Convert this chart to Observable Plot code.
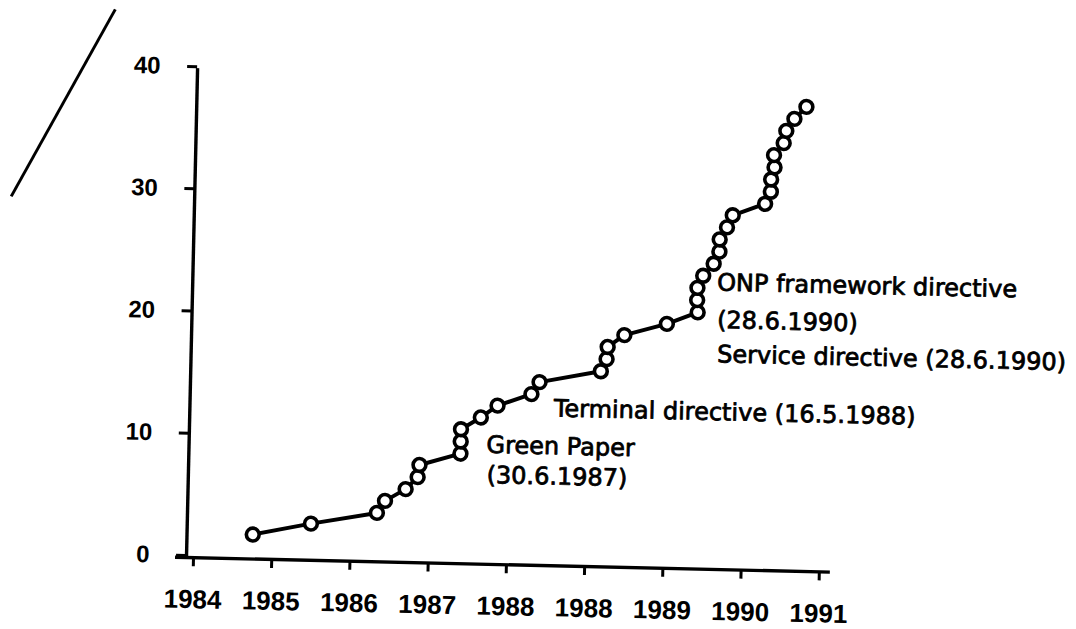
<!DOCTYPE html>
<html>
<head>
<meta charset="utf-8">
<script src="https://cdn.jsdelivr.net/npm/d3@7"></script>
<script src="https://cdn.jsdelivr.net/npm/@observablehq/plot@0.6"></script>
<style>
  html, body { margin: 0; padding: 0; background: #fff; }
  #wrap { position: relative; width: 1076px; height: 629px; overflow: hidden; background: #fff; }
  #chart svg { display: block; transform: rotate(1.3deg); transform-origin: 186px 557px; }
  #scanmark { position: absolute; left: 11px; top: 195px; width: 214px; height: 2.5px; background: #000;
              transform-origin: 0 50%; transform: rotate(-60.9deg); }
</style>
</head>
<body>
<div id="wrap">
  <div id="chart"></div>
  <div id="scanmark"></div>
</div>
<script>
// Tick labels along the horizontal axis (as printed, including the repeated 1988)
const tickPositions = [0, 1, 2, 3, 4, 5, 6, 7, 8];
const tickLabels = ["1984", "1985", "1986", "1987", "1988", "1988", "1989", "1990", "1991"];
const yTicks = [0, 10, 20, 30, 40];

// Position of each point along the time axis (in tick units, 0 = 1984 tick)
const pointX = [0.84, 1.58, 2.42, 2.52, 2.78, 2.93, 2.95, 3.47, 3.47, 3.47,
                3.72, 3.93, 4.36, 4.46, 5.24, 5.31, 5.32, 5.53, 6.07, 6.46,
                6.45, 6.45, 6.52, 6.65, 6.72, 6.72, 6.81, 6.88, 7.29, 7.36,
                7.36, 7.40, 7.39, 7.51, 7.54, 7.64, 7.79];
// Cumulative count read at each point
const pointY = [2, 3, 4, 5, 6, 7, 8, 9, 10, 11,
                12, 13, 14, 15, 16, 17, 18, 19, 20, 21,
                22, 23, 24, 25, 26, 27, 28, 29, 30, 31,
                32, 33, 34, 35, 36, 37, 38];

// Annotations
const noteText = ["Green Paper", "(30.6.1987)", "Terminal directive (16.5.1988)",
                  "ONP framework directive", "(28.6.1990)", "Service directive (28.6.1990)"];
const noteX = [3.80, 3.81, 4.65, 6.70, 6.71, 6.72];
const noteY = [9.75, 7.28, 12.85, 23.45, 20.38, 17.58];

const points = pointX.map((x, i) => ({x, y: pointY[i]}));
const notes = noteText.map((t, i) => ({text: t, x: noteX[i], y: noteY[i]}));

const tickFont = "'Liberation Sans', Arial, sans-serif";
const noteFont = "'DejaVu Sans', sans-serif";

const chart = Plot.plot({
  width: 1076,
  height: 629,
  marginLeft: 186,
  marginRight: 246,
  marginTop: 68,
  marginBottom: 72,
  style: {background: "#fff", color: "#000", overflow: "visible"},
  x: {domain: [0, 8.23]},
  y: {domain: [0, 40]},
  marks: [
    Plot.axisX({
      ticks: tickPositions,
      tickFormat: i => tickLabels[i],
      tickSize: 9,
      tickPadding: 23,
      strokeWidth: 3,
      fontSize: 26,
      fontWeight: "bold",
      fontFamily: tickFont,
      dx: 7,
      label: null
    }),
    Plot.axisY({
      ticks: yTicks,
      tickSize: 10,
      tickPadding: 27,
      strokeWidth: 3,
      fontSize: 24,
      fontWeight: "bold",
      fontFamily: tickFont,
      dy: -2,
      label: null
    }),
    Plot.ruleX([0], {y1: 0, y2: 40, strokeWidth: 3.4, stroke: "#000"}),
    Plot.ruleY([0], {x1: -0.14, x2: 8.23, strokeWidth: 3.4, stroke: "#000"}),
    Plot.line(points, {x: "x", y: "y", stroke: "#000", strokeWidth: 4, curve: "linear"}),
    Plot.dot(points, {x: "x", y: "y", r: 6.4, fill: "#fff", stroke: "#000", strokeWidth: 3.6}),
    Plot.text(notes, {
      x: "x", y: "y", text: "text",
      textAnchor: "start", lineAnchor: "middle",
      fontSize: 24, fontFamily: noteFont, fill: "#000",
      stroke: "#000", strokeWidth: 0.8
    })
  ]
});

document.getElementById("chart").appendChild(chart);
</script>
</body>
</html>
